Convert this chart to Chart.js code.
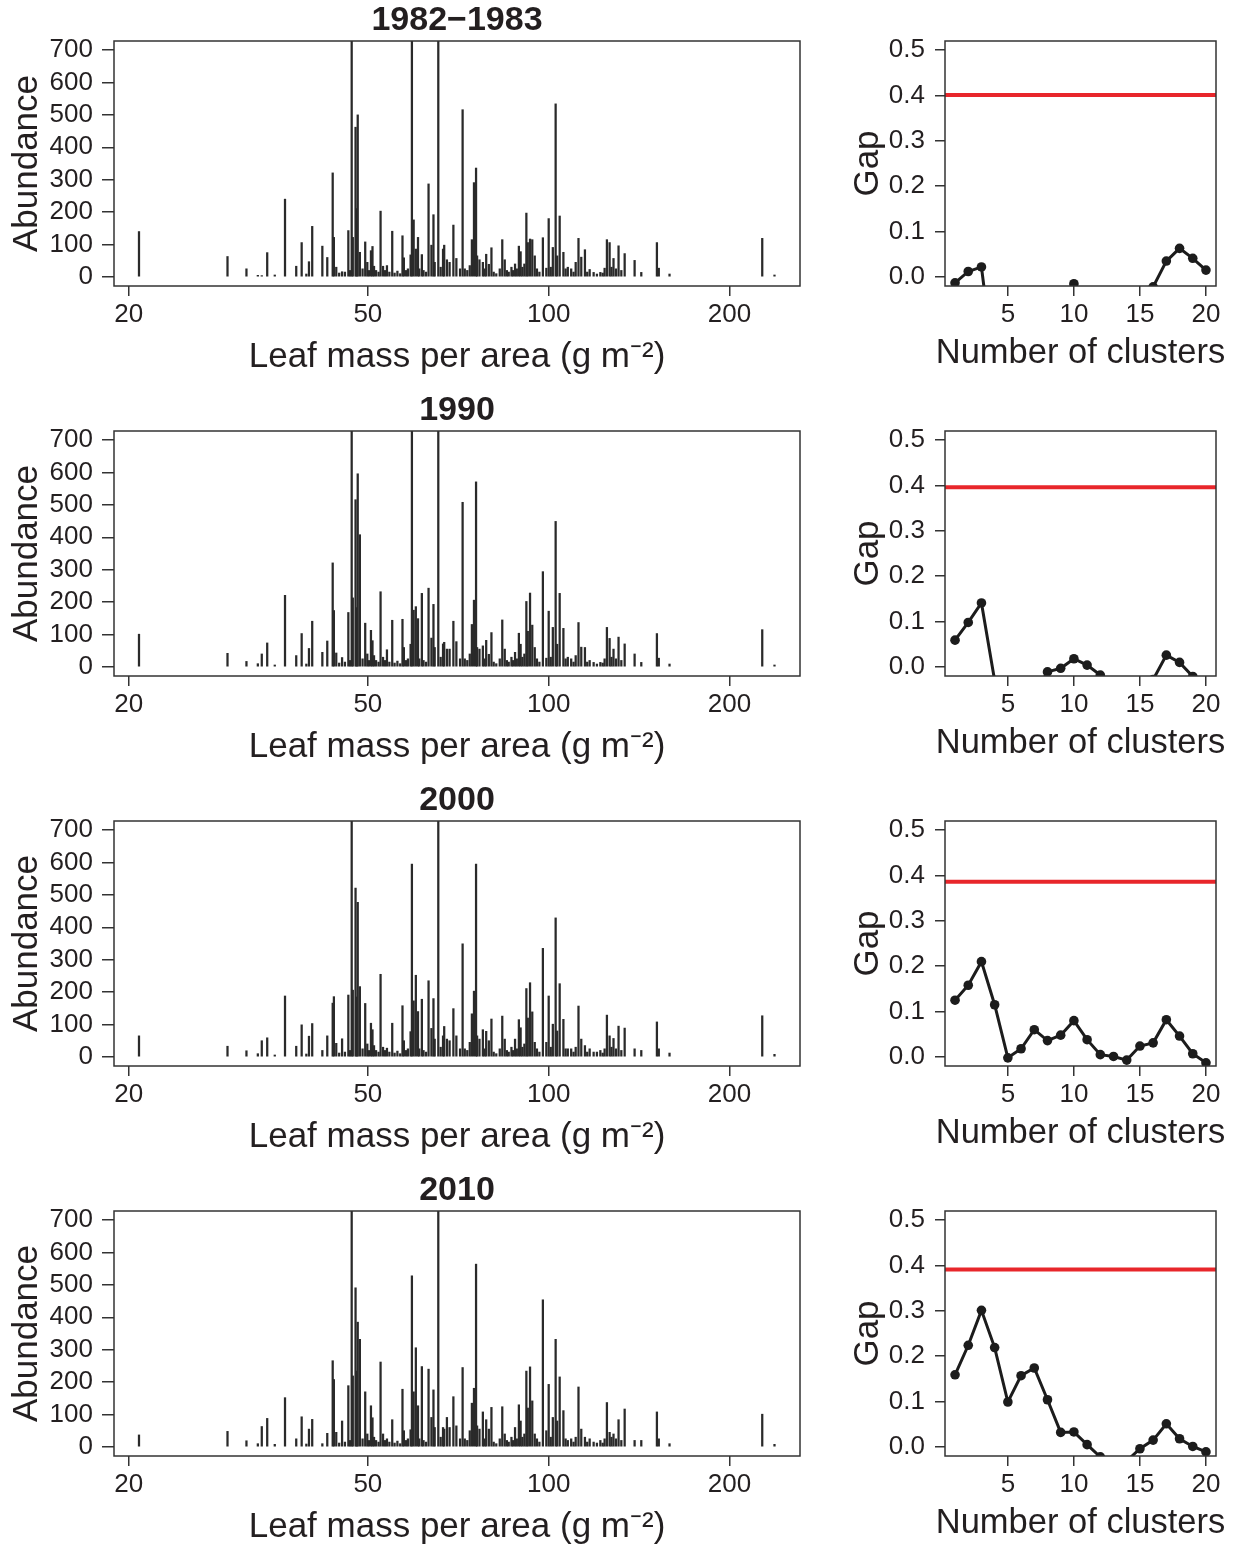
<!DOCTYPE html>
<html>
<head>
<meta charset="utf-8">
<script src="https://cdn.jsdelivr.net/npm/chart.js@4.4.1/dist/chart.umd.min.js"></script>
<style>
  html, body { margin: 0; padding: 0; background: #fff; }
  body { width: 1235px; height: 1549px; position: relative; overflow: hidden; }
  canvas { position: absolute; }
</style>
</head>
<body>
<script>
const years = ['1982\u22121983', '1990', '2000', '2010'];

// leaf mass per area of each species (g m-2), shared by all years
const lma = [20.8, 29.2, 31.4, 32.8, 33.3, 34.0, 35.0, 36.4, 38.0, 38.8,
  39.5, 39.9, 40.4, 42.0, 42.8, 43.7, 43.9, 44.3, 44.8, 45.3,
  45.8, 46.4, 46.7, 47.0, 47.2, 47.7, 47.9, 48.1, 48.5, 49.0,
  49.5, 49.9, 50.2, 50.6, 50.9, 51.2, 51.6, 52.1, 52.5, 53.0,
  53.4, 53.8, 54.3, 54.9, 55.4, 56.0, 56.6, 57.1, 57.4, 57.9,
  58.3, 58.9, 59.2, 59.6, 60.1, 60.6, 60.9, 61.5, 61.9, 62.5,
  63.1, 63.8, 64.3, 64.6, 65.5, 66.1, 66.7, 67.0, 67.7, 68.4,
  69.4, 70.2, 71.2, 71.9, 72.5, 73.2, 73.9, 74.5, 75.1, 75.7,
  76.0, 76.7, 77.7, 78.2, 78.7, 79.5, 80.3, 81.0, 81.8, 82.9,
  83.7, 84.5, 85.2, 85.8, 86.7, 87.2, 87.9, 88.5, 89.2, 89.8,
  90.4, 91.1, 91.8, 92.3, 93.1, 93.9, 94.8, 95.6, 96.5, 97.8,
  99.1, 100.0, 100.8, 101.6, 102.7, 103.3, 104.3, 105.8, 106.7, 107.6,
  109.0, 110.0, 110.9, 112.1, 113.3, 114.9, 115.9, 117.0, 118.8, 120.3,
  121.9, 123.0, 123.9, 125.0, 126.3, 127.2, 128.2, 129.4, 130.7, 132.1,
  133.8, 139.0, 142.6, 151.4, 152.5, 158.9, 226.7, 237.6];

const abundance1982 = [140, 63, 25, 5, 4, 75, 6, 240, 33, 106,
  9, 47, 156, 95, 60, 321, 122, 30, 12, 16,
  15, 143, 20, 1020, 122, 462, 211, 500, 76, 25,
  108, 45, 20, 81, 94, 33, 20, 15, 203, 33,
  20, 35, 15, 141, 12, 18, 10, 127, 59, 20,
  25, 68, 890, 176, 86, 122, 25, 69, 20, 15,
  287, 98, 192, 45, 960, 30, 86, 98, 53, 45,
  160, 57, 25, 516, 25, 20, 35, 115, 291, 336,
  65, 53, 45, 25, 70, 39, 90, 15, 10, 25,
  115, 53, 20, 15, 30, 20, 40, 25, 95, 78,
  30, 40, 197, 106, 117, 115, 65, 25, 15, 121,
  27, 180, 30, 91, 534, 65, 188, 76, 25, 30,
  25, 15, 45, 119, 61, 84, 15, 23, 14, 9,
  14, 12, 27, 115, 106, 30, 57, 25, 96, 20,
  72, 51, 14, 106, 27, 9, 119, 6];

const abundance1990 = [101, 42, 17, 10, 40, 74, 6, 221, 35, 103,
  9, 57, 141, 45, 80, 321, 174, 43, 12, 29,
  15, 168, 20, 1100, 213, 516, 183, 596, 408, 25,
  135, 40, 20, 113, 81, 35, 20, 15, 232, 30,
  20, 53, 15, 144, 12, 18, 10, 147, 60, 20,
  25, 70, 860, 175, 186, 149, 25, 227, 20, 15,
  243, 89, 193, 60, 940, 30, 71, 76, 55, 55,
  141, 78, 25, 508, 25, 20, 40, 131, 206, 571,
  60, 55, 65, 25, 82, 39, 106, 15, 10, 25,
  145, 55, 20, 15, 30, 20, 45, 25, 104, 70,
  30, 40, 202, 110, 228, 129, 60, 25, 15, 294,
  27, 172, 30, 122, 449, 70, 227, 119, 25, 30,
  25, 15, 35, 137, 61, 60, 15, 20, 14, 9,
  14, 12, 25, 122, 88, 30, 55, 25, 92, 20,
  71, 40, 14, 103, 27, 9, 115, 6];

const abundance2000 = [65, 33, 19, 10, 50, 59, 6, 188, 33, 99,
  9, 64, 103, 20, 65, 166, 186, 42, 12, 56,
  15, 191, 20, 980, 206, 521, 185, 477, 217, 25,
  165, 40, 20, 104, 84, 35, 20, 15, 255, 30,
  20, 27, 15, 104, 12, 18, 10, 158, 50, 20,
  25, 78, 595, 173, 252, 140, 25, 178, 20, 15,
  235, 88, 180, 55, 900, 30, 65, 94, 55, 50,
  149, 65, 25, 349, 25, 20, 45, 133, 203, 595,
  65, 55, 84, 25, 79, 50, 117, 15, 10, 25,
  126, 55, 20, 15, 30, 20, 55, 25, 115, 90,
  30, 40, 211, 120, 229, 139, 45, 25, 15, 335,
  45, 188, 30, 101, 429, 80, 226, 116, 25, 25,
  25, 15, 30, 157, 55, 35, 15, 25, 15, 15,
  20, 12, 25, 129, 65, 30, 57, 25, 95, 20,
  89, 25, 20, 108, 25, 12, 127, 8];

const abundance2010 = [37, 48, 19, 10, 63, 88, 8, 152, 25, 93,
  9, 55, 85, 10, 42, 266, 208, 45, 12, 80,
  15, 189, 20, 1050, 219, 491, 234, 385, 332, 25,
  170, 40, 20, 127, 90, 30, 20, 15, 262, 40,
  20, 25, 15, 84, 12, 18, 10, 178, 50, 20,
  25, 53, 528, 170, 306, 127, 25, 248, 20, 15,
  240, 91, 176, 60, 920, 30, 60, 55, 91, 60,
  155, 65, 25, 245, 25, 20, 50, 135, 181, 564,
  65, 55, 108, 25, 84, 55, 122, 15, 10, 25,
  124, 40, 20, 15, 30, 20, 60, 25, 130, 80,
  30, 40, 234, 120, 247, 142, 40, 25, 15, 454,
  50, 193, 30, 91, 332, 80, 216, 112, 25, 20,
  25, 15, 30, 185, 55, 30, 15, 25, 15, 12,
  20, 12, 25, 137, 45, 30, 40, 25, 84, 20,
  117, 20, 20, 108, 25, 10, 101, 8];

const clusters = [1, 2, 3, 4, 5, 6, 7, 8, 9, 10, 11, 12, 13, 14, 15, 16, 17, 18, 19, 20];
const gap1982 = [-0.013, 0.012, 0.022, -0.21, -0.25, -0.2, -0.18, -0.15, -0.12, -0.015,
  -0.1, -0.14, -0.16, -0.12, -0.08, -0.022, 0.035, 0.063, 0.041, 0.015];
const gap1990 = [0.059, 0.098, 0.141, -0.03, -0.1, -0.12, -0.06, -0.011, -0.003, 0.018,
  0.004, -0.018, -0.08, -0.12, -0.1, -0.028, 0.026, 0.010, -0.021, -0.06];
const gap2000 = [0.125, 0.158, 0.210, 0.115, -0.002, 0.018, 0.060, 0.036, 0.048, 0.080,
  0.038, 0.005, 0.001, -0.007, 0.024, 0.031, 0.082, 0.046, 0.007, -0.013];
const gap2010 = [0.159, 0.224, 0.301, 0.219, 0.099, 0.157, 0.174, 0.104, 0.032, 0.033,
  0.005, -0.022, -0.06, -0.031, -0.004, 0.015, 0.051, 0.018, 0.001, -0.011];
const gapLimit = [0.401, 0.396, 0.386, 0.391];

const lmaTicks = [20, 50, 100, 200];
const abundanceTicks = [0, 100, 200, 300, 400, 500, 600, 700];
const clusterTicks = [5, 10, 15, 20];
const gapTicks = [0, 0.1, 0.2, 0.3, 0.4, 0.5];

const lmaRange = [18.9, 262];
const abundanceRange = [-28, 728];
const clusterRange = [0.24, 20.76];
const gapRange = [-0.02, 0.52];

const abundances = [abundance1982, abundance1990, abundance2000, abundance2010];
const gaps = [gap1982, gap1990, gap2000, gap2010];

const ink = '#231f20';
const axisCol = '#333';
const fontFamily = '"Liberation Sans", Arial, Helvetica, sans-serif';
Chart.defaults.font.family = fontFamily;
Chart.defaults.color = ink;

const frame = {
  id: 'frame',
  afterDatasetsDraw(chart) {
    const a = chart.chartArea, ctx = chart.ctx;
    ctx.save();
    ctx.strokeStyle = axisCol;
    ctx.lineWidth = 1.5;
    ctx.strokeRect(a.left, a.top, a.right - a.left, a.bottom - a.top);
    ctx.restore();
  }
};

// x axis title that may run wider than the plot (scale titles get squeezed)
const wideTitle = {
  id: 'wideTitle',
  afterDraw(chart, args, opts) {
    if (!opts.text) return;
    const a = chart.chartArea, ctx = chart.ctx;
    ctx.save();
    ctx.font = opts.size + 'px ' + fontFamily;
    ctx.fillStyle = ink;
    ctx.textAlign = 'center';
    ctx.textBaseline = 'middle';
    ctx.fillText(opts.text, (a.left + a.right) / 2, a.bottom + opts.offset);
    ctx.restore();
  }
};

function fixedTicks(values) {
  return scale => { scale.ticks = values.map(v => ({ value: v })); };
}

function makeCanvas(left, top, w, h) {
  const c = document.createElement('canvas');
  c.width = w;
  c.height = h;
  c.style.left = left + 'px';
  c.style.top = top + 'px';
  c.style.width = w + 'px';
  c.style.height = h + 'px';
  document.body.appendChild(c);
  return c;
}

const tickGrid = len => ({
  drawOnChartArea: false, drawTicks: true, tickLength: len,
  color: axisCol, lineWidth: 1.5, offset: false
});

years.forEach((year, i) => {
  const rowTop = 390 * i;

  // spike plot of abundance against LMA
  new Chart(makeCanvas(0, rowTop, 820, 390), {
    type: 'bar',
    data: {
      datasets: [{
        data: lma.map((x, j) => ({ x: x, y: abundances[i][j] })),
        backgroundColor: '#2a2a2a',
        borderWidth: 0,
        barThickness: 1.6,
        clip: 0
      }]
    },
    options: {
      responsive: false,
      animation: false,
      devicePixelRatio: 1,
      layout: { padding: { left: 0, right: 20, top: 0, bottom: 0 } },
      plugins: {
        legend: { display: false },
        tooltip: { enabled: false },
        title: {
          display: true, text: year, color: ink, fullSize: false,
          font: { size: 34, weight: 'bold', lineHeight: 1.1 },
          padding: { top: 2, bottom: 1.6 }
        }
      },
      scales: {
        x: {
          type: 'logarithmic', min: lmaRange[0], max: lmaRange[1],
          bounds: 'data', offset: false,
          afterBuildTicks: fixedTicks(lmaTicks),
          afterFit: s => { s.height = 104; },
          grid: tickGrid(10),
          border: { display: false },
          ticks: { font: { size: 26 }, color: ink, padding: 3, maxRotation: 0, autoSkip: false,
                   callback: v => String(v) },
          title: { display: true, text: 'Leaf mass per area (g m\u207B\u00B2)', color: ink,
                   font: { size: 35 }, padding: { top: 0, bottom: 12 } }
        },
        y: {
          type: 'linear', min: abundanceRange[0], max: abundanceRange[1], bounds: 'data',
          afterBuildTicks: fixedTicks(abundanceTicks),
          afterFit: s => { s.width = 114; },
          grid: tickGrid(12),
          border: { display: false },
          ticks: { font: { size: 26 }, color: ink, padding: 9, autoSkip: false,
                   callback: v => String(v) },
          title: { display: true, text: 'Abundance', color: ink,
                   font: { size: 35 }, padding: { top: 6, bottom: 0 } }
        }
      }
    },
    plugins: [frame]
  });

  // gap statistic against number of clusters
  new Chart(makeCanvas(820, rowTop, 415, 390), {
    type: 'line',
    data: {
      datasets: [{
        data: clusterRange.map(x => ({ x: x, y: gapLimit[i] })),
        borderColor: '#e8262b',
        borderWidth: 4,
        pointRadius: 0,
        clip: 0
      }, {
        data: clusters.map((k, j) => ({ x: k, y: gaps[i][j] })),
        borderColor: '#1c1c1c',
        borderWidth: 3,
        pointRadius: 4.8,
        pointBackgroundColor: '#1c1c1c',
        pointBorderWidth: 0,
        clip: 0
      }]
    },
    options: {
      responsive: false,
      animation: false,
      devicePixelRatio: 1,
      layout: { padding: { left: 0, right: 19, top: 41, bottom: 0 } },
      plugins: {
        legend: { display: false },
        tooltip: { enabled: false },
        wideTitle: { text: 'Number of clusters', size: 34.5, offset: 67 }
      },
      scales: {
        x: {
          type: 'linear', min: clusterRange[0], max: clusterRange[1], bounds: 'data',
          afterBuildTicks: fixedTicks(clusterTicks),
          afterFit: s => { s.height = 104; },
          grid: tickGrid(10),
          border: { display: false },
          ticks: { font: { size: 26 }, color: ink, padding: 3, maxRotation: 0, autoSkip: false,
                   callback: v => String(v) }
        },
        y: {
          type: 'linear', min: gapRange[0], max: gapRange[1], bounds: 'data',
          afterBuildTicks: fixedTicks(gapTicks),
          afterFit: s => { s.width = 125; },
          grid: tickGrid(10),
          border: { display: false },
          ticks: { font: { size: 26 }, color: ink, padding: 10, autoSkip: false,
                   callback: v => v.toFixed(1) },
          title: { display: true, text: 'Gap', color: ink,
                   font: { size: 35 }, padding: { top: 27, bottom: 0 } }
        }
      }
    },
    plugins: [frame, wideTitle]
  });
});
</script>
</body>
</html>
